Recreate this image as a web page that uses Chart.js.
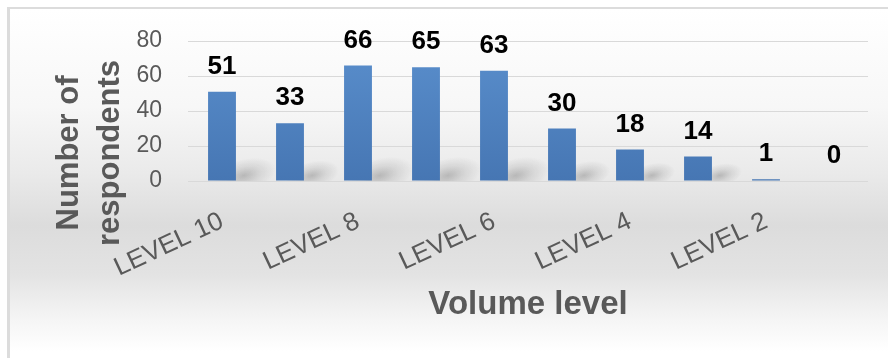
<!DOCTYPE html>
<html>
<head>
<meta charset="utf-8">
<script src="https://cdn.jsdelivr.net/npm/chart.js@4.4.1/dist/chart.umd.min.js"></script>
<style>
    html, body { margin: 0; padding: 0; background: #fff; overflow: hidden; }
    #frame {
        position: absolute; left: 7px; top: 7px; width: 878px; height: 349px;
        border-left: 3px solid #dcdcdc; border-top: 2px solid #dcdcdc;
        background: linear-gradient(to bottom, #ffffff 0%, #f7f7f7 28%, #eaeaea 47%, #dcdcdc 62%, #e3e3e3 76%, #f5f5f5 89%, #ffffff 98%);
    }
    #wrap { position: absolute; left: 0; top: 0; width: 888px; height: 358px; }
</style>
</head>
<body>
<div id="frame"></div>
<div id="wrap"><canvas id="chart"></canvas></div>
<script>
// categories and values
const levels = ["LEVEL 10", "LEVEL 9", "LEVEL 8", "LEVEL 7", "LEVEL 6",
                "LEVEL 5", "LEVEL 4", "LEVEL 3", "LEVEL 2", "LEVEL 1"]
const respondents = [51, 33, 66, 65, 63, 30, 18, 14, 1, 0]
const shownLevels = ["LEVEL 10", "LEVEL 8", "LEVEL 6", "LEVEL 4", "LEVEL 2"]
const yMax = 80
const yStep = 20
const yTitle = ["Number of", "respondents"]
const xTitle = "Volume level"

const FONT = "'Liberation Sans', Arial, sans-serif"
const GREY = "#595959"

// soft shadow at the foot of each bar (Excel style)
const barShadows = {
    id: "barShadows",
    beforeDatasetsDraw(chart) {
        const ctx = chart.ctx
        const area = chart.chartArea
        const meta = chart.getDatasetMeta(0)
        ctx.save()
        ctx.beginPath()
        ctx.rect(area.left, area.top, area.right - area.left, area.bottom - area.top)
        ctx.clip()
        meta.data.forEach((bar, i) => {
            const h = bar.base - bar.y
            if (h < 5) return
            const k = Math.min(1, 0.55 + h / 220)
            const cx = bar.x + bar.width / 2 + 8
            const cy = bar.base - 5
            ctx.save()
            ctx.translate(cx, cy)
            ctx.rotate(-0.25)
            ctx.scale(1, 0.5)
            const r = 34 * k
            const g = ctx.createRadialGradient(0, 0, 0, 0, 0, r)
            g.addColorStop(0, "rgba(70,70,70,0.30)")
            g.addColorStop(0.5, "rgba(70,70,70,0.12)")
            g.addColorStop(1, "rgba(70,70,70,0)")
            ctx.fillStyle = g
            ctx.beginPath()
            ctx.arc(0, 0, r, 0, Math.PI * 2)
            ctx.fill()
            ctx.restore()
        })
        ctx.restore()
    }
}

// value above each bar
const valueLabels = {
    id: "valueLabels",
    afterDatasetsDraw(chart) {
        const ctx = chart.ctx
        const meta = chart.getDatasetMeta(0)
        ctx.save()
        ctx.font = "bold 26px " + FONT
        ctx.fillStyle = "#000"
        ctx.textAlign = "center"
        ctx.textBaseline = "alphabetic"
        meta.data.forEach((bar, i) => {
            ctx.fillText(String(respondents[i]), bar.x, bar.y - 18)
        })
        ctx.restore()
    }
}

// two-line y title, centred lower than the scale like in the picture
const yTitlePlugin = {
    id: "yTitlePlugin",
    afterDraw(chart) {
        const ctx = chart.ctx
        ctx.save()
        ctx.font = "bold 31px " + FONT
        ctx.fillStyle = GREY
        ctx.textAlign = "center"
        ctx.textBaseline = "alphabetic"
        ctx.translate(78, 153)
        ctx.rotate(-Math.PI / 2)
        yTitle.forEach((line, i) => ctx.fillText(line, 0, i * 41))
        ctx.restore()
    }
}

function barFill(context) {
    const area = context.chart.chartArea
    if (!area) return "#4f81bd"
    const g = context.chart.ctx.createLinearGradient(0, area.top, 0, area.bottom)
    g.addColorStop(0, "#5a8fcd")
    g.addColorStop(1, "#4676b3")
    return g
}

new Chart(document.getElementById("chart"), {
    type: "bar",
    data: {
        labels: levels,
        datasets: [{
            data: respondents,
            backgroundColor: barFill,
            borderWidth: 0,
            categoryPercentage: 1,
            barPercentage: 0.41,
        }]
    },
    options: {
        responsive: true,
        maintainAspectRatio: false,
        animation: false,
        layout: { padding: { top: 41, right: 20, left: 0, bottom: 0 } },
        plugins: { legend: { display: false }, tooltip: { enabled: false } },
        scales: {
            x: {
                grid: { display: false },
                border: { display: false },
                ticks: {
                    autoSkip: false,
                    minRotation: 25,
                    maxRotation: 25,
                    padding: 17,
                    color: GREY,
                    font: { family: FONT, size: 26 },
                    callback: (v, i) => shownLevels.includes(levels[i]) ? levels[i] : "",
                },
                title: {
                    display: true,
                    text: xTitle,
                    color: GREY,
                    font: { family: FONT, size: 33, weight: "bold" },
                    padding: { top: 0, bottom: 33 },
                },
                afterFit(scale) { scale.height = 177 },
            },
            y: {
                min: 0,
                max: yMax,
                grid: { color: "#d9d9d9", drawTicks: false },
                border: { display: false },
                ticks: {
                    stepSize: yStep,
                    padding: 26,
                    color: GREY,
                    font: { family: FONT, size: 23 },
                },
                afterFit(scale) { scale.width = 188 },
            }
        }
    },
    plugins: [barShadows, valueLabels, yTitlePlugin]
})
</script>
</body>
</html>
